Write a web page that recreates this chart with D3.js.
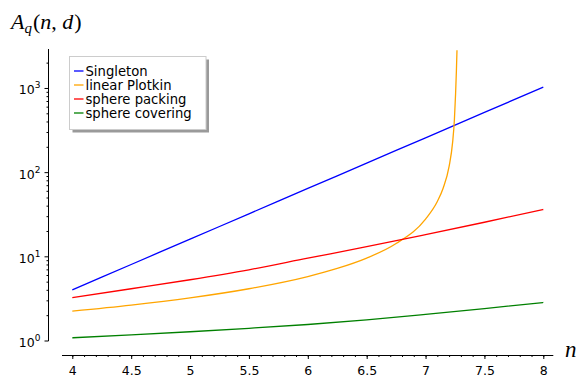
<!DOCTYPE html>
<html>
<head>
<meta charset="utf-8">
<script src="https://cdn.jsdelivr.net/npm/d3@7"></script>
<style>
  body { margin: 0; background: #fff; }
</style>
</head>
<body>
<div id="chart"></div>
<script>
// values
var nGrid = [4, 4.5, 5, 5.5, 6, 6.5, 7, 7.5, 8];
var singleton = [4, 8, 16, 32, 64, 128, 256, 512, 1024];
var spherePacking = [3.24, 4.12, 5.27, 6.92, 9.5, 13.0, 18.1, 25.4, 36.0];
var sphereCovering = [1.077, 1.164, 1.27, 1.396, 1.549, 1.758, 2.04, 2.39, 2.83];
var plotkinN = [4, 4.5, 5, 5.5, 6, 6.25, 6.5, 6.75, 7, 7.1, 7.15, 7.2, 7.23, 7.245, 7.255, 7.262, 7.267];
var plotkin = [2.23, 2.63, 3.21, 4.12, 5.75, 7.18, 9.53, 14.2, 27.7, 44.8, 64.8, 117, 227, 420, 850, 1600, 2800];

var xMajor = [4, 4.5, 5, 5.5, 6, 6.5, 7, 7.5, 8];
var yMajor = [1, 10, 100, 1000];
var yExp = ['0', '1', '2', '3'];
var legendNames = ['Singleton', 'linear Plotkin', 'sphere packing', 'sphere covering'];
var colors = ['#0000ff', '#ffa500', '#ff0000', '#008000'];

function drawBounds(){

    var W = 588, H = 389;
    var svg = d3.select('#chart').append('svg')
        .attr('width', W)
        .attr('height', H);

    // scales
    var x = d3.scaleLinear().domain([4, 8]).range([72.3, 543.3]);
    var y = d3.scaleLog().domain([1, 2904]).range([340.5, 49]);

    var axisY = 355, axisX = 48.5;
    var font = 'DejaVu Sans, sans-serif';

    svg.append('clipPath').attr('id', 'plotClip')
        .append('rect')
        .attr('x', 62).attr('y', 49)
        .attr('width', 553 - 62).attr('height', axisY - 49);

    // curves
    var series = [
        {n: nGrid, v: singleton},
        {n: plotkinN, v: plotkin},
        {n: nGrid, v: spherePacking},
        {n: nGrid, v: sphereCovering}
    ];

    var line = d3.line()
        .x(function(d){ return x(d[0]); })
        .y(function(d){ return y(d[1]); })
        .curve(d3.curveMonotoneX);

    svg.append('g')
        .attr('clip-path', 'url(#plotClip)')
        .selectAll('path')
        .data(series)
        .enter().append('path')
        .attr('d', function(s){
            return line(s.n.map(function(n, i){ return [n, s.v[i]]; }));
        })
        .attr('fill', 'none')
        .attr('stroke', function(d, i){ return colors[i]; })
        .attr('stroke-width', 1.3);

    // x axis: minor + major ticks
    var xMinor = d3.range(40, 81).map(function(i){ return i / 10; });
    svg.append('g')
        .attr('transform', 'translate(0,' + axisY + ')')
        .call(d3.axisBottom(x).tickValues(xMinor).tickSize(2).tickFormat(''))
        .call(function(g){ g.select('.domain').remove(); });

    svg.append('g')
        .attr('transform', 'translate(0,' + axisY + ')')
        .call(d3.axisBottom(x).tickValues(xMajor).tickSize(4).tickPadding(7)
            .tickFormat(function(d){ return String(d); }))
        .call(function(g){ g.select('.domain').remove(); })
        .selectAll('text')
        .style('font-family', font)
        .style('font-size', '12.5px')
        .style('fill', '#000');

    svg.append('line')
        .attr('x1', 62).attr('x2', 553.3)
        .attr('y1', axisY + 0.5).attr('y2', axisY + 0.5)
        .attr('stroke', '#000').attr('stroke-width', 1);

    // y axis: log ticks
    var yTicks = y.ticks().filter(function(t){ return yMajor.indexOf(t) < 0; });
    svg.append('g')
        .attr('transform', 'translate(' + axisX + ',0)')
        .call(d3.axisLeft(y).tickValues(yTicks).tickSize(2).tickFormat(''))
        .call(function(g){ g.select('.domain').remove(); });

    svg.append('g')
        .attr('transform', 'translate(' + axisX + ',0)')
        .call(d3.axisLeft(y).tickValues(yMajor).tickSize(4).tickFormat(''))
        .call(function(g){ g.select('.domain').remove(); });

    svg.append('line')
        .attr('x1', axisX).attr('x2', axisX)
        .attr('y1', 49).attr('y2', y(1) + 0.5)
        .attr('stroke', '#000').attr('stroke-width', 1);

    var yLab = svg.append('g').selectAll('text')
        .data(yMajor)
        .enter().append('text')
        .attr('x', 40.5)
        .attr('y', function(d){ return y(d) + 6.5; })
        .attr('text-anchor', 'end')
        .style('font-family', font)
        .style('font-size', '12.5px');
    yLab.append('tspan').text('10');
    yLab.append('tspan')
        .attr('dy', -6)
        .style('font-size', '9px')
        .text(function(d, i){ return yExp[i]; });

    // axis labels
    var title = svg.append('text')
        .attr('x', 11).attr('y', 29)
        .style('font-family', 'Liberation Serif, serif')
        .style('font-size', '22px');
    title.append('tspan').style('font-style', 'italic').text('A');
    title.append('tspan').style('font-style', 'italic').style('font-size', '15px')
        .attr('dy', 4).text('q');
    title.append('tspan').attr('dy', -4).attr('dx', 1).text('(');
    title.append('tspan').style('font-style', 'italic').text('n');
    title.append('tspan').text(',\u2009');
    title.append('tspan').style('font-style', 'italic').attr('dx', 1).text('d');
    title.append('tspan').attr('dx', 1).text(')');

    svg.append('text')
        .attr('x', 565).attr('y', 357)
        .style('font-family', 'Liberation Serif, serif')
        .style('font-style', 'italic')
        .style('font-size', '23px')
        .text('n');

    // legend with shadow
    var lg = svg.append('g');
    lg.append('rect')
        .attr('x', 72.5).attr('y', 59.5)
        .attr('width', 136.5).attr('height', 73)
        .attr('fill', '#9a9a9a');
    lg.append('rect')
        .attr('x', 69.5).attr('y', 56.5)
        .attr('width', 136.5).attr('height', 73)
        .attr('fill', '#fff')
        .attr('stroke', '#cccccc');

    var rows = lg.selectAll('.row')
        .data(legendNames)
        .enter().append('g')
        .attr('class', 'row')
        .attr('transform', function(d, i){ return 'translate(0,' + (71 + i * 14) + ')'; });
    rows.append('line')
        .attr('x1', 74).attr('x2', 83.5)
        .attr('stroke', function(d, i){ return colors[i]; })
        .attr('stroke-width', 1.3);
    rows.append('text')
        .attr('x', 85.5)
        .attr('dy', '0.36em')
        .style('font-family', font)
        .style('font-size', '13.2px')
        .text(function(d){ return d; });
}

drawBounds();
</script>
</body>
</html>
